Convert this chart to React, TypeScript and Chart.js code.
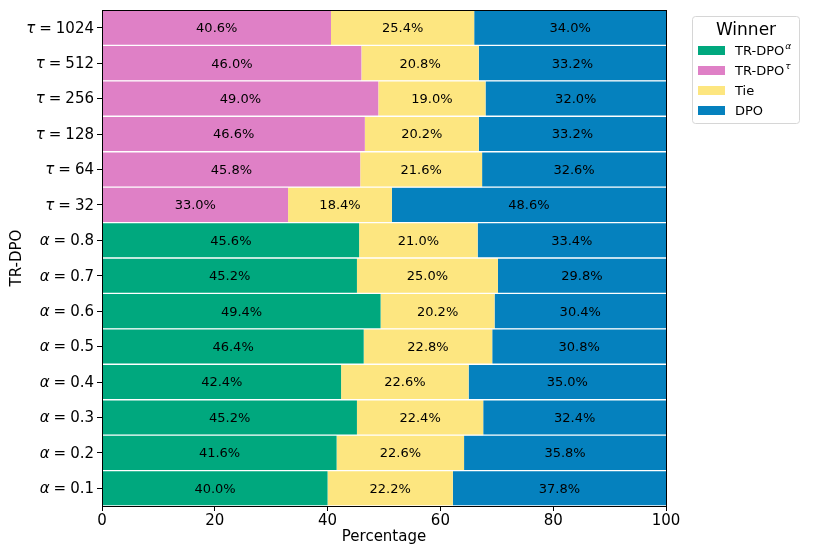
import React, { useEffect, useRef } from "react";
import { Chart, registerables } from "chart.js";

Chart.register(...registerables);

const categories = [
  "τ=1024", "τ=512", "τ=256", "τ=128", "τ=64", "τ=32",
  "α=0.8", "α=0.7", "α=0.6", "α=0.5", "α=0.4", "α=0.3", "α=0.2", "α=0.1",
];
const trdpoAlpha = [0, 0, 0, 0, 0, 0, 45.6, 45.2, 49.4, 46.4, 42.4, 45.2, 41.6, 40.0];
const trdpoTau = [40.6, 46.0, 49.0, 46.6, 45.8, 33.0, 0, 0, 0, 0, 0, 0, 0, 0];
const tie = [25.4, 20.8, 19.0, 20.2, 21.6, 18.4, 21.0, 25.0, 20.2, 22.8, 22.6, 22.4, 22.6, 22.2];
const dpo = [34.0, 33.2, 32.0, 33.2, 32.6, 48.6, 33.4, 29.8, 30.4, 30.8, 35.0, 32.4, 35.8, 37.8];
const xTicks = [0, 20, 40, 60, 80, 100];

const seriesNames = ["TR-DPO", "TR-DPO", "Tie", "DPO"];
const seriesSup = ["α", "τ", "", ""];
const colors = ["#00A87E", "#DF80C6", "#FDE680", "#0581BE"];

const FONT = "'DejaVu Sans', sans-serif";

export default function App() {
  const ref = useRef<HTMLCanvasElement | null>(null);

  useEffect(() => {
    if (!ref.current) return;
    const series = [trdpoAlpha, trdpoTau, tie, dpo];

    const drawPlugin = {
      id: "custom",
      afterDatasetsDraw(chart: any) {
        const ctx = chart.ctx;
        ctx.save();
        ctx.fillStyle = "#000";
        ctx.font = `13px ${FONT}`;
        ctx.textAlign = "center";
        ctx.textBaseline = "middle";
        chart.data.datasets.forEach((ds: any, i: number) => {
          const meta = chart.getDatasetMeta(i);
          meta.data.forEach((bar: any, j: number) => {
            const v = ds.data[j];
            if (!v) return;
            const p = bar.getProps(["x", "y", "base"], true);
            ctx.fillText(v.toFixed(1) + "%", (p.x + p.base) / 2, p.y + 1);
          });
        });
        ctx.restore();
      },
      afterDraw(chart: any) {
        const ctx = chart.ctx;
        const a = chart.chartArea;
        ctx.save();
        // frame
        ctx.strokeStyle = "#000";
        ctx.lineWidth = 1;
        ctx.strokeRect(Math.round(a.left) + 0.5, Math.round(a.top) + 0.5, Math.round(a.right - a.left), Math.round(a.bottom - a.top));

        // y tick labels
        const ys = chart.scales.y;
        ctx.fillStyle = "#000";
        ctx.textBaseline = "middle";
        ctx.textAlign = "left";
        categories.forEach((lab, i) => {
          const y = ys.getPixelForValue(i);
          const greek = lab[0];
          const rest = lab.slice(2);
          ctx.font = `italic 15px ${FONT}`;
          const wg = ctx.measureText(greek).width;
          ctx.font = `15px ${FONT}`;
          const weq = ctx.measureText("=").width;
          const wr = ctx.measureText(rest).width;
          const gap = 4;
          const total = wg + gap + weq + gap + wr;
          let x = a.left - 8 - total;
          ctx.font = `italic 15px ${FONT}`;
          ctx.fillText(greek, x, y + 1);
          x += wg + gap;
          ctx.font = `15px ${FONT}`;
          ctx.fillText("=", x, y + 1);
          x += weq + gap;
          ctx.fillText(rest, x, y + 1);
        });

        // axis titles
        ctx.font = `15px ${FONT}`;
        ctx.textAlign = "center";
        ctx.fillText("Percentage", (a.left + a.right) / 2, 537);
        ctx.save();
        ctx.translate(17, (a.top + a.bottom) / 2);
        ctx.rotate(-Math.PI / 2);
        ctx.fillText("TR-DPO", 0, 0);
        ctx.restore();

        // legend
        const lx = 692.5, ly = 16.5, lw = 107, lh = 107;
        ctx.beginPath();
        ctx.roundRect(lx, ly, lw, lh, 3);
        ctx.fillStyle = "rgba(255,255,255,0.8)";
        ctx.fill();
        ctx.strokeStyle = "#d6d6d6";
        ctx.lineWidth = 1;
        ctx.stroke();
        ctx.fillStyle = "#000";
        ctx.font = `17px ${FONT}`;
        ctx.textAlign = "center";
        ctx.fillText("Winner", lx + lw / 2, 31);
        const rows = [51, 71, 91, 111];
        ctx.textAlign = "left";
        seriesNames.forEach((name, i) => {
          const cy = rows[i];
          ctx.fillStyle = colors[i];
          ctx.fillRect(698, cy - 5, 27, 9);
          ctx.fillStyle = "#000";
          ctx.font = `13px ${FONT}`;
          ctx.fillText(name, 735, cy + 1);
          if (seriesSup[i]) {
            const w = ctx.measureText(name).width;
            ctx.font = `italic 9px ${FONT}`;
            ctx.fillText(seriesSup[i], 735 + w + 1, cy - 4);
          }
        });
        ctx.restore();
      },
    };

    const chart = new Chart(ref.current, {
      type: "bar",
      data: {
        labels: categories,
        datasets: series.map((d, i) => ({
          label: seriesNames[i] + seriesSup[i],
          data: d,
          backgroundColor: colors[i],
          borderColor: "#ffffff",
          borderWidth: { top: 1, bottom: 1, left: 0, right: 0 },
          borderSkipped: false,
          categoryPercentage: 1,
          barPercentage: 1,
        })),
      },
      options: {
        indexAxis: "y",
        animation: false,
        responsive: false,
        maintainAspectRatio: false,
        layout: { padding: { top: 10, right: 164, left: 0, bottom: 0 } },
        plugins: {
          legend: { display: false },
          tooltip: { enabled: false },
        },
        scales: {
          x: {
            stacked: true,
            min: 0,
            max: 100,
            afterBuildTicks: (s: any) => {
              s.ticks = xTicks.map((v) => ({ value: v }));
            },
            afterFit: (s: any) => {
              s.height = 48;
            },
            ticks: {
              color: "#000",
              font: { family: FONT, size: 15 },
              padding: 1,
            },
            grid: {
              drawOnChartArea: false,
              drawTicks: true,
              tickLength: 5,
              color: "#000",
            },
            border: { display: true, color: "#000" },
          },
          y: {
            stacked: true,
            afterFit: (s: any) => {
              s.width = 102;
            },
            ticks: { display: false },
            grid: {
              drawOnChartArea: false,
              drawTicks: true,
              tickLength: 5,
              color: "#000",
              offset: false,
            },
            border: { display: true, color: "#000" },
          },
        },
      },
      plugins: [drawPlugin],
    });
    return () => chart.destroy();
  }, []);

  return (
    <div style={{ position: "fixed", left: 0, top: 0, width: 830, height: 554, background: "#fff" }}>
      <canvas ref={ref} width={830} height={554} style={{ width: 830, height: 554 }} />
    </div>
  );
}
